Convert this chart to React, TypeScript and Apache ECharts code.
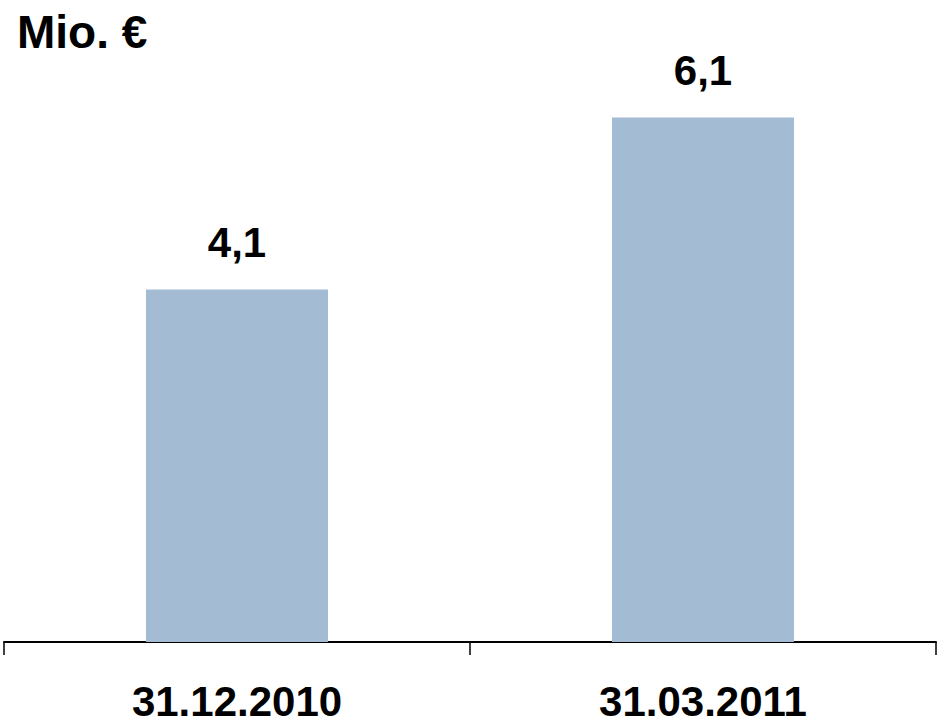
import React, { useEffect, useRef } from "react";
import * as echarts from "echarts";

const categories = ["31.12.2010", "31.03.2011"];
const values = [4.1, 6.1];
const unitLabel = "Mio. €";

export default function App() {
  const ref = useRef<HTMLDivElement>(null);
  useEffect(() => {
    const chart = echarts.init(ref.current!, null, { renderer: "svg" });
    const font = "Liberation Sans, Arial, sans-serif";
    chart.setOption({
      animation: false,
      backgroundColor: "#ffffff",
      grid: { left: 4, right: 12, top: 40, bottom: 86 },
      graphic: [
        {
          type: "text",
          left: 17,
          top: 9,
          style: {
            text: unitLabel,
            fontSize: 46,
            fontWeight: "bold",
            fontFamily: font,
            fill: "#000",
          },
        },
      ],
      xAxis: {
        type: "category",
        data: categories,
        boundaryGap: true,
        axisLine: { lineStyle: { color: "#000", width: 2 } },
        axisTick: { show: true, length: 13, lineStyle: { color: "#000", width: 1.5 } },
        axisLabel: {
          margin: 38,
          fontSize: 42,
          fontWeight: "bold",
          fontFamily: font,
          color: "#000",
        },
      },
      yAxis: {
        type: "value",
        min: 0,
        max: 7,
        show: false,
        splitLine: { show: false },
      },
      series: [
        {
          type: "bar",
          data: values,
          barWidth: 182,
          itemStyle: { color: "#A3BBD3" },
          label: {
            show: true,
            position: "top",
            distance: 26,
            fontSize: 42,
            fontWeight: "bold",
            fontFamily: font,
            color: "#000",
            formatter: (p: any) => String(p.value).replace(".", ","),
          },
        },
      ],
    });
    return () => chart.dispose();
  }, []);
  return (
    <div
      ref={ref}
      style={{ position: "absolute", left: 0, top: 0, width: 948, height: 728 }}
    />
  );
}
